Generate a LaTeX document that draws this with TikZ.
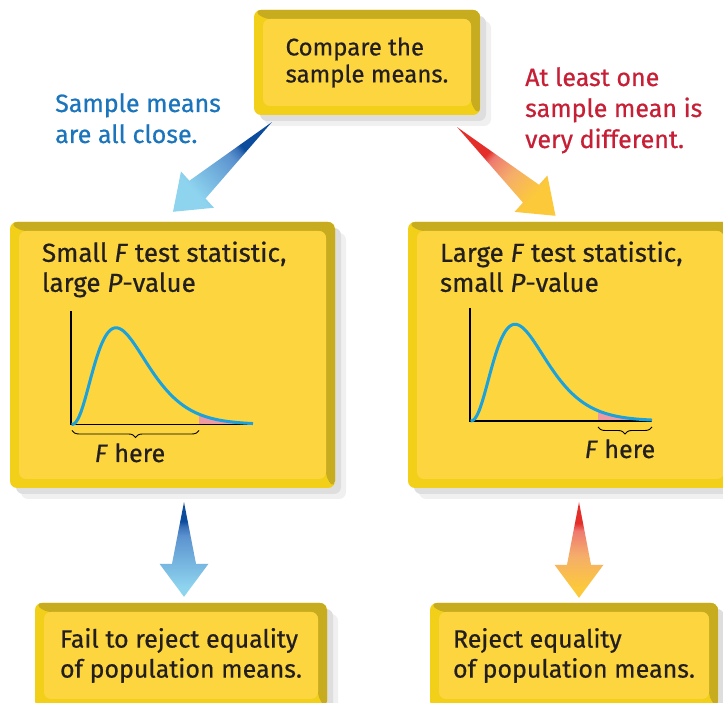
\documentclass[tikz,border=0pt]{standalone}
\usepackage{fontspec}
\setmainfont{Fira Sans}[FakeBold=0.6]
\usetikzlibrary{positioning, calc, shadows, decorations.pathreplacing}
\definecolor{panelfill}{HTML}{FDD63F}
\definecolor{paneledge}{HTML}{F2D01A}
\definecolor{paneldark}{HTML}{C8AC1F}
\definecolor{inktext}{HTML}{231F20}
\definecolor{closeblue}{HTML}{1B75BC}
\definecolor{farred}{HTML}{C61F36}
\definecolor{curveblue}{HTML}{1BA1DB}
\definecolor{tailpink}{HTML}{EF9AA2}
\definecolor{bluedark}{HTML}{0C4C9C}
\definecolor{bluemid}{HTML}{5C93CF}
\definecolor{bluemix}{HTML}{3A72B8}
\definecolor{bluelight}{HTML}{8ED4EF}
\definecolor{reddark}{HTML}{E42E2A}
\definecolor{redmix}{HTML}{EE7A70}
\definecolor{redmid}{HTML}{F5AE6A}
\definecolor{redlight}{HTML}{FCC93A}

\pgfdeclareverticalshading{bluefade}{100bp}{color(0bp)=(bluelight); color(30bp)=(bluelight); color(57bp)=(bluemid); color(62bp)=(bluemix); color(65bp)=(bluedark); color(100bp)=(bluedark)}
\pgfdeclareverticalshading{redfade}{100bp}{color(0bp)=(redlight); color(30bp)=(redlight); color(47bp)=(redmid); color(60bp)=(redmix); color(64bp)=(reddark); color(100bp)=(reddark)}

\newcommand{\topfont}{\fontsize{24}{27}\selectfont}
\newcommand{\boxfont}{\fontsize{25}{30}\selectfont}
\newcommand{\statfont}{\fontsize{26}{30}\selectfont}
\newcommand{\sidefont}{\fontsize{25}{31}\selectfont}

% fat tapered arrow: shading, tail, tip, shading angle
\newcommand{\fatarrow}[4]{%
  \path ($(#3)!33pt!(#2)$) coordinate (base);
  \shade[shading=#1, shading angle=#4] (#2) -- ($(base)!12pt!90:(#2)$) -- ($(base)!24.5pt!90:(#2)$) -- (#3)
    -- ($(base)!24.5pt!-90:(#2)$) -- ($(base)!12pt!-90:(#2)$) -- cycle;
}

\begin{document}
\begin{tikzpicture}[
    x=1pt, y=1pt,
    panel/.style={rectangle, rounded corners=7pt, inner sep=0pt, fill=paneledge, text=inktext, align=left, font=\boxfont,
      drop shadow={shadow xshift=11pt, shadow yshift=-11pt, opacity=1, fill=black!6},
      drop shadow={shadow xshift=6pt, shadow yshift=-6pt, opacity=1, fill=black!13},
      path picture={
        \fill[paneldark] (path picture bounding box.north west) -- (path picture bounding box.north east)
          -- (path picture bounding box.south east) -- ([shift={(-9pt,9pt)}]path picture bounding box.south east)
          -- ([shift={(-9pt,-9pt)}]path picture bounding box.north east) -- ([shift={(9pt,-9pt)}]path picture bounding box.north west) -- cycle;
        \fill[panelfill] ([shift={(9pt,-9pt)}]path picture bounding box.north west) rectangle ([shift={(-9pt,9pt)}]path picture bounding box.south east);
      }},
    paneltext/.style={inner sep=0pt, align=left, font=\statfont, text=inktext},
    sidelabel/.style={inner sep=0pt, align=left, font=\sidefont},
    curve/.style={curveblue, line width=3pt},
    axisline/.style={black, line width=1.1pt},
    fbrace/.style={decorate, decoration={brace, mirror, amplitude=7pt}, line width=0.9pt}
]
    \path[use as bounding box, clip] (0,0) rectangle (723,703);
    \fill[white] (0,0) rectangle (723,703);

    % boxes
    \node[panel, font=\topfont, minimum width=226pt, minimum height=105pt] (compare) at (367,640.5) {Compare the\\sample means.};
    \node[panel, minimum width=325pt, minimum height=266pt] (small) at (172.5,348) {};
    \node[panel, minimum width=325pt, minimum height=266pt] (large) at (570.5,348) {};
    \node[panel, minimum width=292pt, minimum height=105pt] (fail) at (181,47.5) {Fail to reject equality\\of population means.};
    \node[panel, minimum width=288pt, minimum height=105pt] (reject) at (574,47.5) {Reject equality\\of population means.};

    \node[paneltext, anchor=base west] (smalltext) at ([shift={(32,-70)}]small.north west) {Small \textit{F} test statistic,\\large \textit{P}-value};
    \node[paneltext, anchor=base west] (largetext) at ([shift={(32,-70)}]large.north west) {Large \textit{F} test statistic,\\small \textit{P}-value};

    % branch labels
    \node[sidelabel, text=closeblue, anchor=base west] (closelabel) at (55,560) {Sample means\\are all close.};
    \node[sidelabel, text=farred, anchor=base west] (farlabel) at (525,555) {At least one\\sample mean is\\very different.};

    % F curves
    \coordinate (smallO) at ([shift={(-101.5,-69.5)}]small.center);
    \coordinate (largeO) at ([shift={(-100.5,-66)}]large.center);
    \foreach \o in {smallO, largeO} {
        \begin{scope}[shift={(\o)}]
            \fill[tailpink] plot[domain=128:182, samples=30] (\x, {96.7*exp(2.8*(ln(\x/45)+1-\x/45))}) -- (182,0) -- (128,0) -- cycle;
            \draw[axisline] (0,113) -- (0,0) -- (182,0);
            \draw[curve] plot[domain=0.5:182, samples=120, smooth] (\x, {96.7*exp(2.8*(ln(\x/45)+1-\x/45))});
        \end{scope}
    }
    \draw[fbrace] ([shift={(1,-6)}]smallO) -- ([shift={(128,-6)}]smallO);
    \draw[fbrace] ([shift={(128,-6)}]largeO) -- ([shift={(182,-6)}]largeO);
    \node[paneltext, font=\boxfont, anchor=base] (smallF) at ([shift={(59,-37.5)}]smallO) {\textit{F} here};
    \node[paneltext, font=\boxfont, anchor=base] (largeF) at ([shift={(150,-37)}]largeO) {\textit{F} here};

    % arrows
    \coordinate (closetail) at ([shift={(18,-7)}]compare.south west);
    \coordinate (closetip) at ([shift={(0.5,10)}]small.north);
    \coordinate (fartail) at ([shift={(-23,-12)}]compare.south east);
    \coordinate (fartip) at ([shift={(-15,6)}]large.north);
    \coordinate (failtail) at ([shift={(11.5,-14)}]small.south);
    \coordinate (failtip) at ([shift={(3,6)}]fail.north);
    \coordinate (rejecttail) at ([shift={(8.5,-14)}]large.south);
    \coordinate (rejecttip) at ([shift={(5,5)}]reject.north);

    \fatarrow{bluefade}{closetail}{closetip}{-47.7}
    \fatarrow{redfade}{fartail}{fartip}{47.8}
    \fatarrow{bluefade}{failtail}{failtip}{0}
    \fatarrow{redfade}{rejecttail}{rejecttip}{0}

\end{tikzpicture}
\end{document}
